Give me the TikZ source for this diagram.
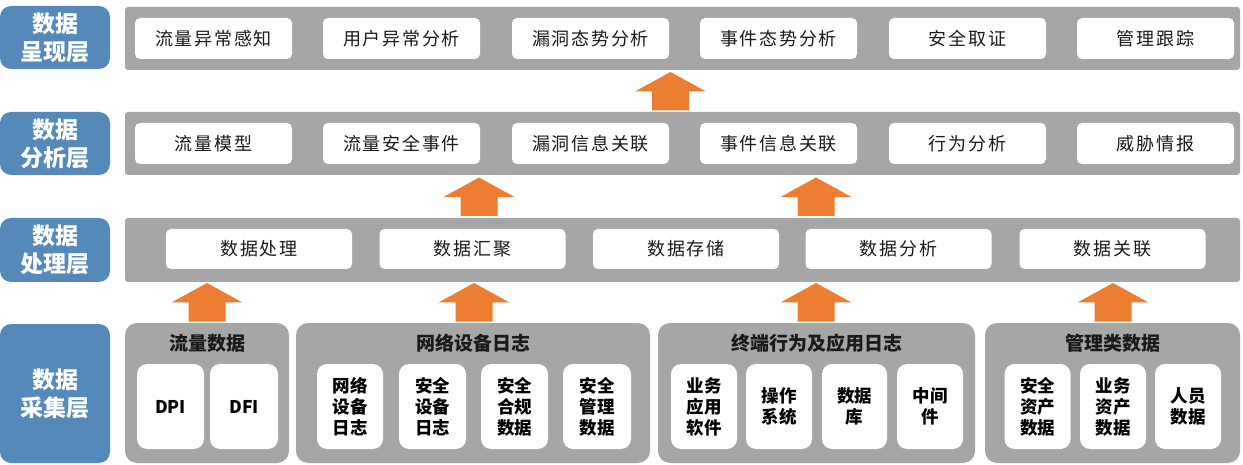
\documentclass[tikz,border=0pt]{standalone}
\usepackage{fontspec}
\setmainfont{Noto Sans CJK SC}
\definecolor{bluec}{HTML}{5589B9}
\definecolor{grayc}{HTML}{A6A6A6}
\definecolor{orangec}{HTML}{ED7D31}
\definecolor{txtc}{HTML}{1A1A1A}
\tikzset{
  layerlbl/.style={fill=bluec, rounded corners=11pt, minimum width=110pt, text=white, align=center, inner sep=0pt, font=\fontsize{23}{28}\selectfont\bfseries},
  bar/.style={fill=grayc, rounded corners=3pt, minimum width=1115pt, inner sep=0pt},
  itembox/.style={fill=white, rounded corners=5pt, inner sep=0pt, text=txtc, font=\fontsize{18}{21}\selectfont\addfontfeature{LetterSpace=10}},
  group/.style={fill=grayc, rounded corners=12pt, minimum height=140pt, inner sep=0pt},
  grptitle/.style={inner sep=0pt, text=txtc, font=\fontsize{19}{22}\selectfont\bfseries},
  leaf/.style={fill=white, rounded corners=10pt, minimum width=66pt, minimum height=85pt, inner sep=0pt, align=center, text=black, font=\fontsize{17.5}{21}\selectfont\bfseries},
  uparr/.pic={\fill[orangec] (-18.5,0) -- (-18.5,-19) -- (-35.5,-19) -- (0,-38.5) -- (35.5,-19) -- (18.5,-19) -- (18.5,0) -- cycle;}
}
\begin{document}
\begin{tikzpicture}[x=1pt,y=-1pt]
\useasboundingbox (0,0) rectangle (1243,465);
% layer labels
\node[layerlbl, minimum height=63pt] (L1) at (55,37.5) {数据\\呈现层};
\node[layerlbl, minimum height=63pt] (L2) at (55,143.5) {数据\\分析层};
\node[layerlbl, minimum height=64pt] (L3) at (55,250) {数据\\处理层};
\node[layerlbl, minimum height=139pt] (L4) at (55,393.5) {数据\\采集层};
% bars
\node[bar, minimum height=63pt] (G1) at (682.5,38.5) {};
\node[bar, minimum height=63pt] (G2) at (682.5,143.5) {};
\node[bar, minimum height=64pt] (G3) at (682.5,250) {};
% top row
\foreach \x/\t [count=\i] in {213.5/流量异常感知, 401.5/用户异常分析, 590.5/漏洞态势分析, 778.5/事件态势分析, 967.5/安全取证, 1155.5/管理跟踪}
  \node[itembox, minimum width=157pt, minimum height=41pt] (p\i) at (\x,38.5) {\t};
% second row
\foreach \x/\t [count=\i] in {213.5/流量模型, 401.5/流量安全事件, 590.5/漏洞信息关联, 778.5/事件信息关联, 967.5/行为分析, 1155.5/威胁情报}
  \node[itembox, minimum width=157pt, minimum height=41pt] (a\i) at (\x,143.5) {\t};
% third row
\foreach \x/\t [count=\i] in {259/数据处理, 472.5/数据汇聚, 686/数据存储, 898.5/数据分析, 1112.5/数据关联}
  \node[itembox, minimum width=186pt, minimum height=40pt] (h\i) at (\x,249) {\t};
% groups
\node[group, minimum width=164pt] (C1) at (207,393) {};
\node[group, minimum width=354pt] (C2) at (473,393) {};
\node[group, minimum width=317pt] (C3) at (816.5,393) {};
\node[group, minimum width=255pt] (C4) at (1112.5,393) {};
\node[grptitle] (T1) at (207,343) {流量数据};
\node[grptitle] (T2) at (473,343) {网络设备日志};
\node[grptitle] (T3) at (816.5,343) {终端行为及应用日志};
\node[grptitle] (T4) at (1112.5,343) {管理类数据};
% leaves
\node[leaf, minimum width=67pt] (d1) at (170.5,406.5) {DPI};
\node[leaf, minimum width=68pt] (d2) at (244,406.5) {DFI};
\node[leaf] (n1) at (350,406.5) {网络\\设备\\日志};
\node[leaf, minimum width=67pt] (n2) at (432.5,406.5) {安全\\设备\\日志};
\node[leaf, minimum width=67pt] (n3) at (514.5,406.5) {安全\\合规\\数据};
\node[leaf, minimum width=68pt] (n4) at (597,406.5) {安全\\管理\\数据};
\node[leaf] (e1) at (704,406.5) {业务\\应用\\软件};
\node[leaf] (e2) at (779,406.5) {操作\\系统};
\node[leaf, minimum width=65pt] (e3) at (854.5,406.5) {数据\\库};
\node[leaf] (e4) at (930,406.5) {中间\\件};
\node[leaf] (m1) at (1037.5,406.5) {安全\\资产\\数据};
\node[leaf] (m2) at (1113,406.5) {业务\\资产\\数据};
\node[leaf] (m3) at (1188,406.5) {人员\\数据};
% arrows
\pic at (670.5,110.5) {uparr};
\pic at (479,216) {uparr};
\pic at (816,216) {uparr};
\pic at (207,321.5) {uparr};
\pic at (474,321.5) {uparr};
\pic at (816,321.5) {uparr};
\pic at (1113,321.5) {uparr};
\end{tikzpicture}
\end{document}
